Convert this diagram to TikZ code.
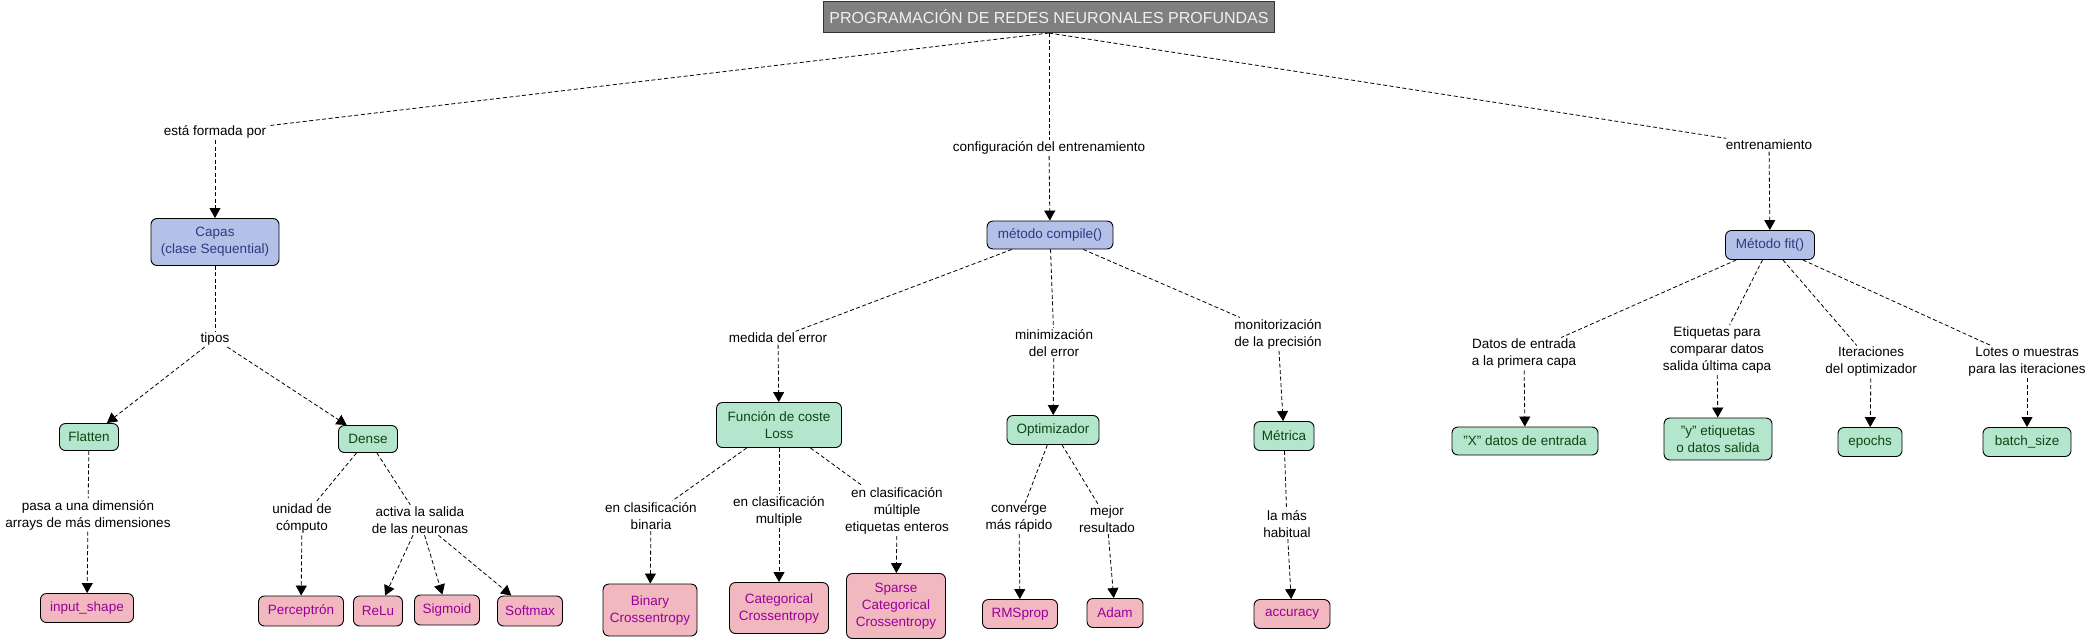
\documentclass[tikz,border=0pt]{standalone}
\usepackage{fontspec}
\setmainfont{Liberation Sans}
\usetikzlibrary{arrows.meta}
\definecolor{bluefill}{HTML}{B3C1E8}
\definecolor{bluetext}{HTML}{2B3A80}
\definecolor{greenfill}{HTML}{B3E6CC}
\definecolor{greentext}{HTML}{114411}
\definecolor{pinkfill}{HTML}{F2B8C0}
\definecolor{pinktext}{HTML}{990099}
\definecolor{titlefill}{HTML}{808080}
\begin{document}
\begin{tikzpicture}[x=1pt,y=-1pt,
  base/.style={draw=black, line width=0.9pt, rounded corners=6pt, align=center, inner xsep=6pt, inner ysep=5pt, font=\fontsize{13.5}{17}\selectfont, minimum height=27pt},
  bluebox/.style={base, fill=bluefill, text=bluetext},
  greenbox/.style={base, fill=greenfill, text=greentext},
  pinkbox/.style={base, fill=pinkfill, text=pinktext},
  lab/.style={align=center, inner sep=1.5pt, font=\fontsize{13.5}{17}\selectfont, text=black},
  dl/.style={dash pattern=on 4pt off 2.5pt, line width=0.8pt},
  da/.style={dl, -{Triangle[length=10pt,width=11pt]}},
]
\useasboundingbox (0,0) rectangle (2092,640);
\fill[white] (0,0) rectangle (2092,640);

\node[draw=black!80, line width=1pt, fill=titlefill, text=white!94!black, font=\fontsize{16}{19}\selectfont, minimum width=451pt, minimum height=31pt, inner sep=0pt] (title) at (1049,17) {PROGRAMACIÓN DE REDES NEURONALES PROFUNDAS};

% main nodes
\node[bluebox, minimum width=128pt, minimum height=47pt] (capas) at (215,242) {Capas\\(clase Sequential)};
\node[bluebox, minimum width=126pt, minimum height=28pt] (compile) at (1050,235) {método compile()};
\node[bluebox, minimum width=89pt, minimum height=29pt] (fit) at (1770,245) {Método fit()};

\node[greenbox, minimum width=59pt] (flatten) at (89,437) {Flatten};
\node[greenbox, minimum width=59pt] (dense) at (368,439) {Dense};
\node[greenbox, minimum width=125pt, minimum height=45pt] (loss) at (779,425) {Función de coste\\Loss};
\node[greenbox, minimum width=92pt, minimum height=29pt] (optim) at (1053,430) {Optimizador};
\node[greenbox, minimum width=60pt, minimum height=29pt] (metrica) at (1284,436) {Métrica};
\node[greenbox, minimum width=146pt, minimum height=28pt] (xdatos) at (1525,441) {"X" datos de entrada};
\node[greenbox, minimum width=108pt, minimum height=42pt] (ydatos) at (1718,439) {"y" etiquetas\\o datos salida};
\node[greenbox, minimum width=64pt, minimum height=29pt] (epochs) at (1870,442) {epochs};
\node[greenbox, minimum width=88pt, minimum height=29pt] (batch) at (2027,442) {batch\_size};

\node[pinkbox, minimum width=93pt, minimum height=29pt] (input) at (87,608) {input\_shape};
\node[pinkbox, minimum width=85pt, minimum height=30pt] (perceptron) at (301,611) {Perceptrón};
\node[pinkbox, minimum width=49pt, minimum height=30pt] (relu) at (378,611) {ReLu};
\node[pinkbox, minimum width=65pt, minimum height=30pt] (sigmoid) at (447,610) {Sigmoid};
\node[pinkbox, minimum width=65pt, minimum height=30pt] (softmax) at (530,611) {Softmax};
\node[pinkbox, minimum width=94pt, minimum height=52pt] (binary) at (650,610) {Binary\\Crossentropy};
\node[pinkbox, minimum width=99pt, minimum height=51pt] (categ) at (779,608) {Categorical\\Crossentropy};
\node[pinkbox, minimum width=99pt, minimum height=65pt] (sparse) at (896,606) {Sparse\\Categorical\\Crossentropy};
\node[pinkbox, minimum width=75pt, minimum height=29pt] (rmsprop) at (1020,614) {RMSprop};
\node[pinkbox, minimum width=56pt, minimum height=29pt] (adam) at (1115,613) {Adam};
\node[pinkbox, minimum width=76pt, minimum height=29pt] (accuracy) at (1292,614) {accuracy};

% labels
\node[lab] (l1) at (215,132) {está formada por};
\node[lab] (l2) at (1049,148) {configuración del entrenamiento};
\node[lab] (l3) at (1769,145) {entrenamiento};
\node[lab] (tipos) at (215,339) {tipos};
\node[lab] (pasa) at (88,515) {pasa a una dimensión\\arrays de más dimensiones};
\node[lab] (unidad) at (302,519) {unidad de\\cómputo};
\node[lab] (activa) at (420,520) {activa la salida\\de las neuronas};
\node[lab] (medida) at (778,338) {medida del error};
\node[lab] (minim) at (1054,343) {minimización\\del error};
\node[lab] (monit) at (1278,334) {monitorización\\de la precisión};
\node[lab] (binl) at (651,516) {en clasificación\\binaria};
\node[lab] (multl) at (779,511) {en clasificación\\multiple};
\node[lab] (sparsel) at (897,511) {en clasificación\\múltiple\\etiquetas enteros};
\node[lab] (conv) at (1019,519) {converge\\más rápido};
\node[lab] (mejor) at (1107,519) {mejor\\resultado};
\node[lab] (habitual) at (1287,524) {la más\\habitual};
\node[lab] (datosl) at (1524,354) {Datos de entrada\\a la primera capa};
\node[lab] (etiql) at (1717,350) {Etiquetas para\\comparar datos\\salida última capa};
\node[lab] (iterl) at (1871,362) {Iteraciones\\del optimizador};
\node[lab] (lotesl) at (2027,362) {Lotes o muestras\\para las iteraciones};

% connectors
\draw[dl] (title.south) -- (l1);
\draw[da] (l1) -- (capas);
\draw[dl] (title.south) -- (l2);
\draw[da] (l2) -- (compile);
\draw[dl] (title.south) -- (l3);
\draw[da] (l3) -- (fit);

\draw[dl] (capas) -- (tipos);
\draw[da] (tipos) -- (flatten);
\draw[da] (tipos) -- (dense);
\draw[dl] (flatten) -- (pasa);
\draw[da] (pasa) -- (input);
\draw[dl] (dense) -- (unidad);
\draw[da] (unidad) -- (perceptron);
\draw[dl] (dense) -- (activa);
\draw[da] (activa) -- (relu);
\draw[da] (activa) -- (sigmoid);
\draw[da] (activa) -- (softmax);

\draw[dl] (compile) -- (medida);
\draw[da] (medida) -- (loss);
\draw[dl] (compile) -- (minim);
\draw[da] (minim) -- (optim);
\draw[dl] (compile) -- (monit);
\draw[da] (monit) -- (metrica);
\draw[dl] (loss) -- (binl);
\draw[da] (binl) -- (binary);
\draw[dl] (loss) -- (multl);
\draw[da] (multl) -- (categ);
\draw[dl] (loss) -- (sparsel);
\draw[da] (sparsel) -- (sparse);
\draw[dl] (optim) -- (conv);
\draw[da] (conv) -- (rmsprop);
\draw[dl] (optim) -- (mejor);
\draw[da] (mejor) -- (adam);
\draw[dl] (metrica) -- (habitual);
\draw[da] (habitual) -- (accuracy);

\draw[dl] (fit) -- (datosl);
\draw[da] (datosl) -- (xdatos);
\draw[dl] (fit) -- (etiql);
\draw[da] (etiql) -- (ydatos);
\draw[dl] (fit) -- (iterl);
\draw[da] (iterl) -- (epochs);
\draw[dl] (fit) -- (lotesl);
\draw[da] (lotesl) -- (batch);
\end{tikzpicture}
\end{document}
